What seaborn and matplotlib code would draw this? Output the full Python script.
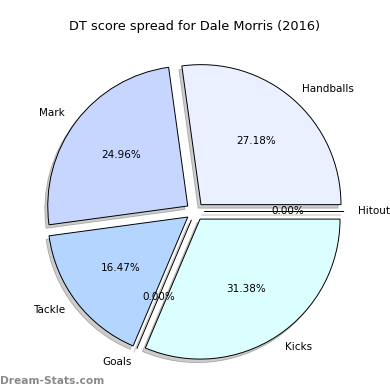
import matplotlib
matplotlib.use("Agg")
import matplotlib.pyplot as plt
import seaborn as sns

# DT score spread values (percent)
labels = ["Handballs", "Mark", "Tackle", "Goals", "Kicks", "Hitout"]
shares = [27.18, 24.96, 16.47, 0.0, 31.38, 0.0]
colors = ["#eaf0ff", "#c6d6ff", "#b4d5ff", "#dcdcff", "#dbffff", "#eef0ff"]

sns.set_style("white")
plt.rcParams["font.family"] = ["DejaVu Sans"]
plt.rcParams["text.color"] = "black"

fig = plt.figure(figsize=(3.9, 3.9), dpi=100)
ax = fig.add_axes([20 / 390, 3.5 / 390, 350 / 390, 350 / 390])

ax.pie(
    shares,
    labels=labels,
    colors=colors,
    explode=[0.065] * len(shares),
    autopct="%.2f%%",
    shadow={"ox": -0.015, "oy": -0.018, "facecolor": "#9a9a9a",
            "edgecolor": "#707070", "linewidth": 0.6},
    startangle=0,
    counterclock=True,
    wedgeprops={"edgecolor": "black", "linewidth": 0.7},
    textprops={"fontsize": 7.5, "color": "black"},
)
ax.set_aspect("equal")
ax.set_title("DT score spread for Dale Morris (2016)", fontsize=9.3,
             color="black", pad=5)

fig.text(0.0, 0.01, "Dream-Stats.com", fontsize=7.7, color="#8a8a8a",
         fontweight="bold", ha="left", va="bottom")

fig.savefig("out.png", dpi=100)
